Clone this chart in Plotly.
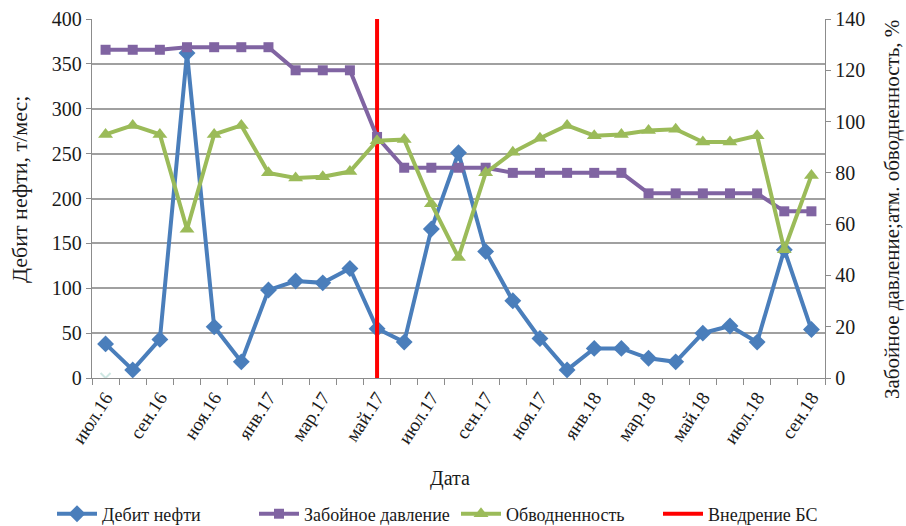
import plotly.graph_objects as go

# Monthly dates, July 2016 - September 2018
months = ["июл.16", "авг.16", "сен.16", "окт.16", "ноя.16", "дек.16",
          "янв.17", "фев.17", "мар.17", "апр.17", "май.17", "июн.17",
          "июл.17", "авг.17", "сен.17", "окт.17", "ноя.17", "дек.17",
          "янв.18", "фев.18", "мар.18", "апр.18", "май.18", "июн.18",
          "июл.18", "авг.18", "сен.18"]

# Oil rate, t/month (left axis)
oil_rate = [38, 9, 43, 362, 57, 18, 98, 108, 106, 122, 55, 40,
            166, 251, 141, 86, 44, 9, 33, 33, 22, 18, 50, 58, 40, 143, 54]

# Bottom-hole pressure, atm (right axis)
bhp = [128, 128, 128, 129, 129, 129, 129, 120, 120, 120, 94, 82,
       82, 82, 82, 80, 80, 80, 80, 80, 72, 72, 72, 72, 72, 65, 65]

# Water cut, % (right axis)
water_cut = [95, 98.5, 95, 58, 95, 98.5, 80, 78, 78.5, 80.5, 92.5, 93,
             68, 47, 80, 88, 93.5, 98.5, 94.5, 95, 96.5, 97, 92, 92, 94.5, 50, 79]

# Sidetrack (БС) introduction month
bs_month = "май.17"
bs_span = [0, 400]

# Labelled ticks: every second month
tick_labels = [m if i % 2 == 0 else "" for i, m in enumerate(months)]

FONT = "Liberation Serif"
TXT = "#1a1a1a"
GRID = "#a0a0a0"
AXIS = "#8c8c8c"


def f(size):
    return dict(family=FONT, size=size, color=TXT)


fig = go.Figure()

fig.add_trace(go.Scatter(
    x=[months[0]], y=[0], mode="markers", yaxis="y",
    marker=dict(symbol="x-thin", size=10, line=dict(color="#cfe7e3", width=2)),
    showlegend=False, hoverinfo="skip"))

fig.add_trace(go.Scatter(
    x=months, y=oil_rate, name="Дебит нефти", mode="lines+markers", yaxis="y",
    line=dict(color="#4a7ebb", width=4),
    marker=dict(symbol="diamond", size=13, color="#4a7ebb")))

fig.add_trace(go.Scatter(
    x=months, y=bhp, name="Забойное давление", mode="lines+markers", yaxis="y2",
    line=dict(color="#8064a2", width=4),
    marker=dict(symbol="square", size=10, color="#8064a2")))

fig.add_trace(go.Scatter(
    x=months, y=water_cut, name="Обводненность", mode="lines+markers", yaxis="y2",
    line=dict(color="#9bbb59", width=4),
    marker=dict(symbol="triangle-up", size=13, color="#9bbb59")))

fig.add_trace(go.Scatter(
    x=[bs_month, bs_month], y=bs_span, name="Внедрение БС", mode="lines", yaxis="y",
    line=dict(color="#ff0000", width=4)))

L, R, T, B = 92, 81, 19, 148
W, H = 906, 526
pw, ph = W - L - R, H - T - B


def px_x(x):
    return (x - L) / pw


def px_y(y):
    return (H - B - y) / ph


fig.update_layout(
    width=W, height=H,
    margin=dict(l=L, r=R, t=T, b=B, autoexpand=False),
    paper_bgcolor="white", plot_bgcolor="white",
    font=f(20),
    xaxis=dict(
        type="category", categoryorder="array", categoryarray=months,
        tickmode="array", tickvals=months, ticktext=tick_labels,
        tickson="boundaries", ticks="outside", ticklen=6, tickcolor=AXIS,
        tickangle=-57, tickfont=f(19),
        showline=True, linecolor=AXIS, linewidth=1.3,
        showgrid=False, zeroline=False, range=[-0.5, 26.5]),
    yaxis=dict(
        range=[0, 400], dtick=50, ticks="outside", ticklen=5, tickcolor=AXIS,
        showline=True, linecolor=AXIS, linewidth=1.3,
        showgrid=True, gridcolor=GRID, gridwidth=1.5, zeroline=False,
        tickfont=f(20)),
    yaxis2=dict(
        range=[0, 140], dtick=20, overlaying="y", side="right",
        ticks="outside", ticklen=5, tickcolor=AXIS,
        showline=True, linecolor=AXIS, linewidth=1.3,
        showgrid=False, zeroline=False, tickfont=f(20)),
    legend=dict(
        orientation="h", xref="paper", yref="paper",
        x=px_x(52), y=px_y(514), xanchor="left", yanchor="middle",
        font=f(18), itemwidth=40, tracegroupgap=0,
        entrywidth=147, entrywidthmode="pixels"),
    annotations=[
        dict(text="Дата", xref="paper", yref="paper", x=px_x(450), y=px_y(478),
             showarrow=False, xanchor="center", yanchor="middle", font=f(20)),
        dict(text="Дебит нефти, т/мес;", xref="paper", yref="paper",
             x=px_x(19), y=px_y(190), textangle=-90, showarrow=False,
             xanchor="center", yanchor="middle", font=f(22)),
        dict(text="Забойное давление;атм. обводненность, %", xref="paper",
             yref="paper", x=px_x(892), y=px_y(210), textangle=-90,
             showarrow=False, xanchor="center", yanchor="middle", font=f(21)),
    ],
)

fig.write_html("out.html")
